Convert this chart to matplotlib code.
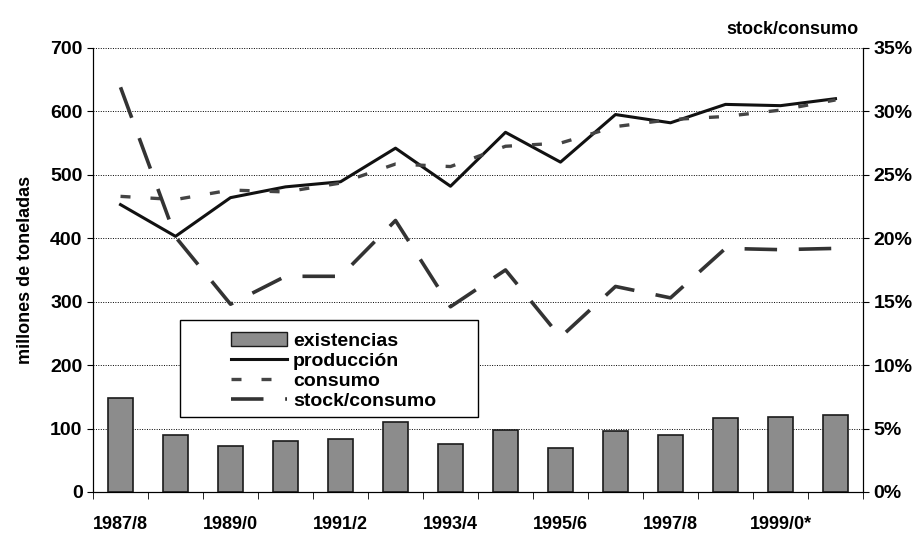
import matplotlib.pyplot as plt
from matplotlib.ticker import FuncFormatter, MultipleLocator
from matplotlib.patches import Patch, Rectangle
from matplotlib.lines import Line2D
import numpy as np

plt.rcParams['font.family'] = ['Liberation Sans', 'DejaVu Sans']
plt.rcParams['font.weight'] = 'bold'

# Datos (millones de toneladas y ratio stock/consumo en %)
campanias = ['1987/8', '1988/9', '1989/0', '1990/1', '1991/2', '1992/3', '1993/4',
             '1994/5', '1995/6', '1996/7', '1997/8', '1998/9', '1999/0*', '2000/1']
existencias = [148, 90, 72, 81, 83, 110, 76, 98, 69, 96, 90, 117, 118, 121]
produccion = [453, 403, 464, 481, 489, 542, 482, 567, 520, 595, 582, 611, 609, 620]
consumo = [466, 461, 476, 473, 487, 517, 513, 545, 550, 576, 587, 592, 602, 618]
stock_consumo = [31.9, 20.1, 14.8, 17.0, 17.0, 21.4, 14.6, 17.5, 12.2, 16.2, 15.3, 19.2, 19.1, 19.2]

x = np.arange(len(campanias))

fig = plt.figure(figsize=(9.21, 5.35), dpi=100)
ax = fig.add_axes([0.101, 0.0804, 0.836, 0.830])
ax2 = ax.twinx()

ax.bar(x, existencias, width=0.45, color='#8c8c8c', edgecolor='#1a1a1a', linewidth=1.2, zorder=3)
ax.plot(x, produccion, color='#111111', lw=2.2, zorder=4)
ax.plot(x, consumo, color='#444444', lw=2.4, dashes=(3, 6), zorder=4)
ax2.plot(x, stock_consumo, color='#333333', lw=2.6, dashes=(9, 6), zorder=4)

ax.set_xlim(-0.5, len(campanias) - 0.5)
ax.set_ylim(0, 700)
ax2.set_ylim(0, 35)

ax.yaxis.set_major_locator(MultipleLocator(100))
ax2.yaxis.set_major_locator(MultipleLocator(5))
ax2.yaxis.set_major_formatter(FuncFormatter(lambda v, p: f'{v:.0f}%'))

ax.grid(axis='y', color='black', linestyle=(0, (1, 1.5)), lw=0.7, zorder=0)
ax.set_axisbelow(True)

ax.set_xticks(x[::2])
ax.set_xticklabels(campanias[::2], fontsize=13, fontweight='bold')
ax.set_xticks(np.arange(-0.5, len(campanias), 1), minor=True)
ax.tick_params(axis='x', which='major', length=0, pad=17)
ax.tick_params(axis='x', which='minor', length=5, direction='out')
ax.tick_params(axis='y', labelsize=14, length=4)
ax2.tick_params(axis='y', labelsize=14, length=4)
for lab in ax.get_yticklabels() + ax2.get_yticklabels():
    lab.set_fontweight('bold')

for a in (ax, ax2):
    a.spines['top'].set_visible(False)
    a.spines['left'].set_linewidth(0.8)
    a.spines['right'].set_linewidth(0.8)
    a.spines['bottom'].set_linewidth(0.8)

ax.set_ylabel('millones de toneladas', fontsize=13, fontweight='bold', labelpad=12)
fig.text(0.932, 0.945, 'stock/consumo', fontsize=13, fontweight='bold', ha='right', va='center')

# legend box (frame drawn separately, entries shifted right like the original)
box = Rectangle((0.195, 0.221), 0.324, 0.181, transform=fig.transFigure,
                facecolor='white', edgecolor='black', lw=1.0, zorder=9)
fig.add_artist(box)

handles = [
    Patch(facecolor='#8c8c8c', edgecolor='#1a1a1a', label='existencias'),
    Line2D([], [], color='#111111', lw=2.2, label='producción'),
    Line2D([], [], color='#444444', lw=2.4, dashes=(3, 6), label='consumo'),
    Line2D([], [], color='#333333', lw=2.6, dashes=(9, 6), label='stock/consumo'),
]
leg = fig.legend(handles=handles, loc='upper left', bbox_to_anchor=(0.236, 0.404),
                 fontsize=14, frameon=False, handlelength=2.9,
                 labelspacing=0.12, borderpad=0.2, handletextpad=0.3)
for t in leg.get_texts():
    t.set_fontweight('bold')
leg.set_zorder(10)

fig.savefig('out.png', dpi=100)
